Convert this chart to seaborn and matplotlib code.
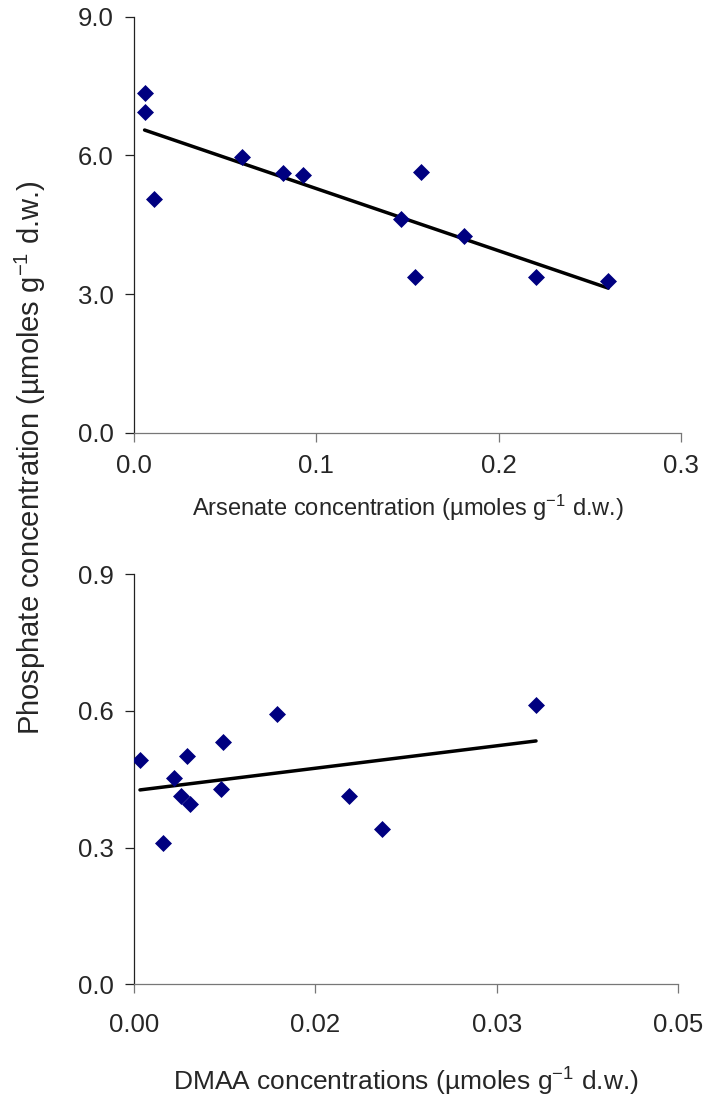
import numpy as np
import pandas as pd
import seaborn as sns
import matplotlib.pyplot as plt
from matplotlib.ticker import FormatStrFormatter

# arsenate vs phosphate (upper panel)
arsenate = [0.0058, 0.0058, 0.0108, 0.0592, 0.0818, 0.0927,
            0.1463, 0.1543, 0.1572, 0.1811, 0.2206, 0.2601]
phosphate_as = [7.34, 6.94, 5.05, 5.97, 5.61, 5.57,
                4.62, 3.36, 5.65, 4.26, 3.36, 3.28]

# DMAA vs phosphate (lower panel)
dmaa = [0.00055, 0.00484, 0.00821, 0.00368, 0.00429, 0.00515,
        0.0080, 0.0027, 0.01317, 0.01979, 0.0228, 0.03695]
phosphate_dm = [0.492, 0.500, 0.532, 0.453, 0.413, 0.395,
                0.429, 0.309, 0.592, 0.413, 0.341, 0.612]

top_xticks = [0.0, 0.1, 0.2, 0.3]
top_yticks = [0.0, 3.0, 6.0, 9.0]
bot_xticks = [0.0, 0.05 / 3, 0.1 / 3, 0.05]   # shown as 0.00 0.02 0.03 0.05
bot_yticks = [0.0, 0.3, 0.6, 0.9]

df_top = pd.DataFrame({"x": arsenate, "y": phosphate_as})
df_bot = pd.DataFrame({"x": dmaa, "y": phosphate_dm})

sns.set_style("white")
plt.rcParams["font.family"] = ["Liberation Sans", "DejaVu Sans"]
plt.rcParams["mathtext.fontset"] = "custom"
plt.rcParams["mathtext.rm"] = "Liberation Sans"
plt.rcParams["mathtext.it"] = "Liberation Sans:italic"

W, H = 706, 1107
fig = plt.figure(figsize=(W / 100, H / 100), dpi=100)
ax1 = fig.add_axes([134 / W, 1 - 432.7 / H, 547 / W, 416 / H])
ax2 = fig.add_axes([134 / W, 1 - 984.3 / H, 544 / W, 410.3 / H])

navy = "#000080"
for ax, d in [(ax1, df_top), (ax2, df_bot)]:
    sns.regplot(data=d, x="x", y="y", ax=ax, ci=None, marker="D",
                color=navy,
                scatter_kws={"s": 75, "linewidths": 0, "alpha": 1, "zorder": 3},
                line_kws={"color": "black", "lw": 2.5, "zorder": 2})

ax1.set_xlim(0, 0.3)
ax1.set_ylim(0, 9)
ax1.set_xticks(top_xticks)
ax1.set_yticks(top_yticks)
ax1.xaxis.set_major_formatter(FormatStrFormatter("%.1f"))
ax1.yaxis.set_major_formatter(FormatStrFormatter("%.1f"))

ax2.set_xlim(0, 0.05)
ax2.set_ylim(0, 0.9)
ax2.set_xticks(bot_xticks)
ax2.set_yticks(bot_yticks)
ax2.xaxis.set_major_formatter(FormatStrFormatter("%.2f"))
ax2.yaxis.set_major_formatter(FormatStrFormatter("%.1f"))

for ax, xpad in [(ax1, 9), (ax2, 14)]:
    for s in ("top", "right"):
        ax.spines[s].set_visible(False)
    ax.spines["left"].set_color("#222222")
    ax.spines["bottom"].set_color("#777777")
    ax.spines["left"].set_linewidth(0.9)
    ax.spines["bottom"].set_linewidth(0.9)
    ax.tick_params(axis="y", direction="out", length=6.5, width=0.9,
                   color="#222222", pad=8, labelsize=18.5, left=True)
    ax.tick_params(axis="x", direction="out", length=6.5, width=0.9,
                   color="#777777", pad=xpad, labelsize=18.5, bottom=True)
    ax.set_ylabel("")

ax1.set_xlabel(r"Arsenate concentration (µmoles g$^{\mathrm{-1}}$ d.w.)",
               fontsize=17, labelpad=10.5)
ax2.set_xlabel(r"DMAA concentrations (µmoles g$^{\mathrm{-1}}$ d.w.)",
               fontsize=19, labelpad=21)

fig.text(30 / W, 1 - 458 / H,
         r"Phosphate concentration (µmoles g$^{\mathrm{-1}}$ d.w.)",
         rotation=90, ha="center", va="center", fontsize=21)

fig.savefig("out.png", dpi=100, facecolor="white")
